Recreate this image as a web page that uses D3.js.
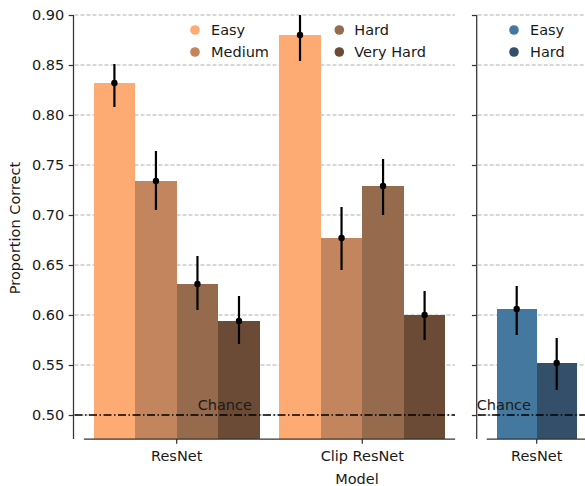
<!DOCTYPE html>
<html>
<head>
<meta charset="utf-8">
<script src="https://cdn.jsdelivr.net/npm/d3@7"></script>
<style>
  html, body { margin: 0; padding: 0; background: #fff; }
  svg { display: block; font-family: "DejaVu Sans", sans-serif; }
</style>
</head>
<body>
<svg id="chart" width="585" height="486"></svg>
<script>
// Categories and tick labels
const models = ["ResNet", "Clip ResNet"];
const difficulties = ["Easy", "Medium", "Hard", "Very Hard"];
const secondModels = ["ResNet"];
const secondDifficulties = ["Easy", "Hard"];
const yTicks = [0.50, 0.55, 0.60, 0.65, 0.70, 0.75, 0.80, 0.85, 0.90];

// Mean proportion correct, one array per model (Easy, Medium, Hard, Very Hard)
const resnetMean = [0.832, 0.734, 0.631, 0.594];
const clipMean   = [0.880, 0.677, 0.729, 0.600];
// 95% interval bounds
const resnetLow  = [0.808, 0.705, 0.605, 0.571];
const resnetHigh = [0.851, 0.764, 0.659, 0.619];
const clipLow    = [0.854, 0.645, 0.700, 0.575];
const clipHigh   = [0.906, 0.708, 0.756, 0.624];

// Second panel: ResNet (Easy, Hard)
const resnet2Mean = [0.606, 0.552];
const resnet2Low  = [0.580, 0.525];
const resnet2High = [0.629, 0.577];

const chance = 0.5;

const warmColors = ["#fdab73", "#c3855e", "#966a4c", "#6b4b36"];
const coolColors = ["#45789e", "#344f69"];

const svg = d3.select("#chart");
const fontSize = 14.5;

const y = d3.scaleLinear().domain([0.476, 0.9]).range([439, 15]);

// Panel geometry
const leftPanel  = { spineX: 73.5, x0: 83.9, x1: 455.1, gridRight: 455 };
const rightPanel = { spineX: 476.7, x0: 486.7, x1: 586.7, gridRight: 585 };

const xL = d3.scaleLinear().domain([-0.5, models.length - 0.5]).range([leftPanel.x0, leftPanel.x1]);
const xR = d3.scaleLinear().domain([-0.5, secondModels.length - 0.5]).range([rightPanel.x0, rightPanel.x1]);

const groupWidthL = 0.895;
const groupWidthR = 0.8;

const defs = svg.append("defs");
function clip(id, x0, x1) {
  defs.append("clipPath").attr("id", id)
    .append("rect").attr("x", x0).attr("y", y.range()[1])
    .attr("width", x1 - x0).attr("height", y.range()[0] - y.range()[1]);
}
clip("clipL", leftPanel.x0 - 12, leftPanel.x1);
clip("clipR", rightPanel.x0 - 12, 600);

function drawGrid(panel) {
  svg.append("g").selectAll("line").data(yTicks).join("line")
    .attr("x1", panel.spineX + 1).attr("x2", panel.gridRight)
    .attr("y1", d => y(d)).attr("y2", d => y(d))
    .attr("stroke", "#b0b0b0").attr("stroke-width", 1)
    .attr("stroke-dasharray", "4,2");
}
drawGrid(leftPanel);
drawGrid(rightPanel);

function drawBars(clipId, xScale, groupWidth, cats, diffs, means, lows, highs, colors) {
  const inner = d3.scaleBand().domain(diffs).range([-groupWidth / 2, groupWidth / 2]).padding(0);
  const g = svg.append("g").attr("clip-path", `url(#${clipId})`);
  const rows = [];
  cats.forEach((c, ci) => {
    diffs.forEach((d, di) => {
      rows.push({ ci, di, d, mean: means[ci][di], lo: lows[ci][di], hi: highs[ci][di] });
    });
  });
  g.selectAll("rect").data(rows).join("rect")
    .attr("x", r => xScale(r.ci + inner(r.d)))
    .attr("width", r => xScale(r.ci + inner(r.d) + inner.bandwidth()) - xScale(r.ci + inner(r.d)))
    .attr("y", r => y(r.mean))
    .attr("height", r => y(y.domain()[0]) - y(r.mean))
    .attr("fill", r => colors[r.di])
    .attr("shape-rendering", "crispEdges");
  const cx = r => xScale(r.ci + inner(r.d) + inner.bandwidth() / 2);
  g.selectAll("line.err").data(rows).join("line").attr("class", "err")
    .attr("x1", cx).attr("x2", cx)
    .attr("y1", r => y(r.lo)).attr("y2", r => y(r.hi))
    .attr("stroke", "#000").attr("stroke-width", 2.2);
  g.selectAll("circle").data(rows).join("circle")
    .attr("cx", cx).attr("cy", r => y(r.mean)).attr("r", 3.2).attr("fill", "#000");
}

drawBars("clipL", xL, groupWidthL, models, difficulties,
  [resnetMean, clipMean], [resnetLow, clipLow], [resnetHigh, clipHigh], warmColors);
drawBars("clipR", xR, groupWidthR, secondModels, secondDifficulties,
  [resnet2Mean], [resnet2Low], [resnet2High], coolColors);

// Chance reference line and label
function drawChance(panel, labelX) {
  svg.append("line")
    .attr("x1", panel.spineX + 1).attr("x2", panel.gridRight)
    .attr("y1", y(chance)).attr("y2", y(chance))
    .attr("stroke", "#000").attr("stroke-width", 1.4)
    .attr("stroke-dasharray", "8,2.5,1.5,2.5");
  svg.append("text").attr("x", labelX).attr("y", y(chance) - 5.5)
    .attr("font-size", fontSize).attr("fill", "#1a1a1a").text("Chance");
}
drawChance(leftPanel, xL(0.113));
drawChance(rightPanel, xR(-0.6));

// Axes: left spine with ticks, bottom spine with category ticks
function drawYAxis(panel, withLabels) {
  const g = svg.append("g").attr("transform", `translate(${panel.spineX},0)`);
  const axis = d3.axisLeft(y).tickValues(yTicks).tickSize(4.8).tickPadding(4.5)
    .tickFormat(withLabels ? d3.format(".2f") : () => "");
  g.call(axis);
  g.select(".domain").attr("d", `M0,${y.range()[1]}V${y.range()[0]}`)
    .attr("stroke", "#333").attr("stroke-width", 1.25);
  g.selectAll(".tick line").attr("stroke", "#333").attr("stroke-width", 1.25);
  g.selectAll(".tick text").attr("font-size", fontSize)
    .attr("font-family", "DejaVu Sans").attr("fill", "#1a1a1a");
}
drawYAxis(leftPanel, true);
drawYAxis(rightPanel, false);

function drawXAxis(panel, xScale, cats) {
  const g = svg.append("g").attr("transform", `translate(0,${y.range()[0]})`);
  g.append("line").attr("x1", panel.x0).attr("x2", Math.min(panel.x1, 585))
    .attr("stroke", "#333").attr("stroke-width", 1.25);
  const t = g.selectAll("g.tick").data(cats).join("g")
    .attr("transform", (d, i) => `translate(${xScale(i)},0)`);
  t.append("line").attr("y2", 4.8).attr("stroke", "#333").attr("stroke-width", 1.25);
  t.append("text").attr("y", 21.5).attr("text-anchor", "middle")
    .attr("font-size", fontSize).attr("fill", "#1a1a1a").text(d => d);
}
drawXAxis(leftPanel, xL, models);
drawXAxis(rightPanel, xR, secondModels);

// Axis titles
svg.append("text").attr("x", 357).attr("y", 484).attr("text-anchor", "middle")
  .attr("font-size", fontSize).attr("fill", "#1a1a1a").text("Model");
svg.append("text").attr("transform", "translate(19.5,228) rotate(-90)")
  .attr("text-anchor", "middle").attr("font-size", fontSize).attr("fill", "#1a1a1a")
  .text("Proportion Correct");

// Legends
function drawLegend(items, colors, columns) {
  const g = svg.append("g");
  items.forEach((name, i) => {
    const col = columns[Math.floor(i / 2)];
    const rowY = 30 + (i % 2) * 22;
    g.append("circle").attr("cx", col.circleX).attr("cy", rowY).attr("r", 4.8).attr("fill", colors[i]);
    g.append("text").attr("x", col.textX).attr("y", rowY).attr("dy", "0.36em")
      .attr("font-size", fontSize).attr("fill", "#1a1a1a").text(name);
  });
}
drawLegend(difficulties, warmColors, [{ circleX: 195, textX: 211 }, { circleX: 339.3, textX: 354.3 }]);
drawLegend(secondDifficulties, coolColors, [{ circleX: 514, textX: 530 }]);
</script>
</body>
</html>
